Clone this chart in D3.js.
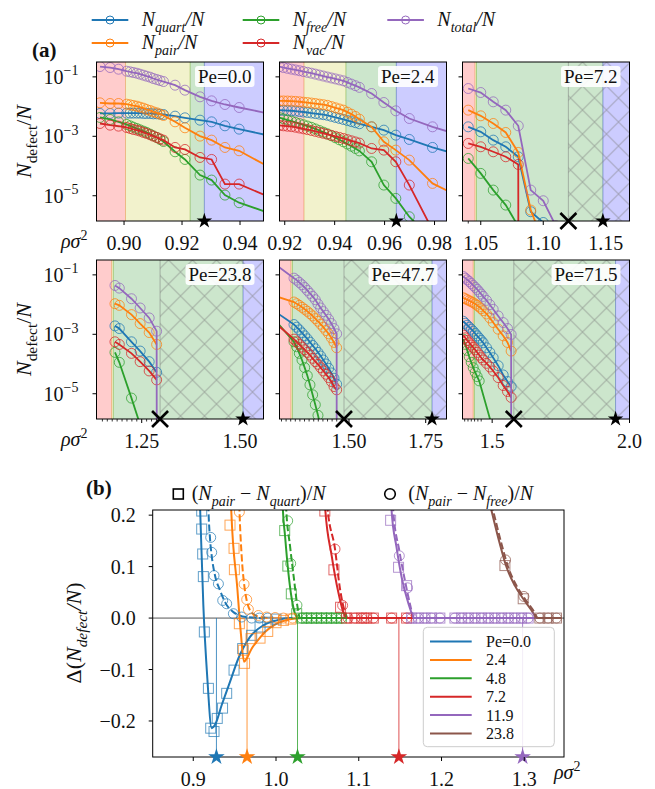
<!DOCTYPE html>
<html>
<head>
<meta charset="utf-8">
<script src="https://cdn.jsdelivr.net/npm/d3@7"></script>
<style>
body{margin:0;background:#fff;}
text{font-family:'Liberation Serif','DejaVu Serif',serif;fill:#111;}
</style>
</head>
<body>
<svg id="fig" width="655" height="789"></svg>
<script>
// ---------- panel (a): density and log10(N_x/N), one set per Pe ----------
var pe00_rho=[0.8917,0.8952,0.8981,0.9009,0.9021,0.9032,0.9044,0.9055,0.9067,0.9078,0.9090,0.9101,0.9113,0.9124,0.9136,0.9176,0.9210,0.9262,0.9302,0.9348,0.9397,0.9498];
var pe00_quart=[-2.232,-2.232,-2.221,-2.221,-2.221,-2.221,-2.221,-2.221,-2.232,-2.232,-2.232,-2.244,-2.244,-2.255,-2.266,-2.322,-2.378,-2.457,-2.513,-2.647,-2.759,-2.972];
var pe00_pair=[-1.874,-1.896,-1.896,-1.919,-1.941,-1.964,-1.986,-2.020,-2.053,-2.098,-2.132,-2.176,-2.210,-2.255,-2.300,-2.513,-2.714,-2.994,-3.129,-3.375,-3.487,-4.025];
var pe00_free=[-2.367,-2.434,-2.513,-2.602,-2.647,-2.692,-2.737,-2.782,-2.826,-2.871,-2.927,-2.983,-3.039,-3.106,-3.174,-3.521,-3.779,-4.305,-4.473,-4.978,-5.235,-5.571];
var pe00_vac=[-2.569,-2.625,-2.658,-2.703,-2.737,-2.770,-2.793,-2.826,-2.871,-2.905,-2.950,-2.994,-3.039,-3.084,-3.129,-3.375,-3.443,-3.711,-3.779,-4.608,-4.608,-5.034];
var pe00_total=[-0.653,-0.686,-0.742,-0.810,-0.832,-0.854,-0.877,-0.910,-0.944,-0.978,-1.011,-1.056,-1.090,-1.123,-1.157,-1.280,-1.448,-1.672,-1.807,-1.930,-2.031,-2.232];

var pe24_rho=[0.9179,0.9195,0.9211,0.9227,0.9243,0.9259,0.9275,0.9291,0.9307,0.9323,0.9339,0.9355,0.9371,0.9387,0.9403,0.9419,0.9435,0.9451,0.9467,0.9483,0.9499,0.9548,0.9597,0.9645,0.9699,0.9792,0.9888];
var pe24_quart=[-2.124,-2.129,-2.135,-2.141,-2.151,-2.168,-2.183,-2.199,-2.217,-2.235,-2.254,-2.273,-2.294,-2.329,-2.365,-2.399,-2.434,-2.470,-2.506,-2.542,-2.578,-2.681,-2.793,-2.961,-3.106,-3.375,-3.599];
var pe24_pair=[-1.809,-1.811,-1.813,-1.817,-1.825,-1.838,-1.852,-1.865,-1.881,-1.899,-1.918,-1.937,-1.959,-1.999,-2.040,-2.080,-2.120,-2.188,-2.255,-2.333,-2.423,-2.681,-3.185,-3.465,-3.801,-4.585,-4.978];
var pe24_free=[-2.371,-2.412,-2.452,-2.492,-2.533,-2.573,-2.613,-2.654,-2.699,-2.752,-2.806,-2.860,-2.916,-2.983,-3.050,-3.118,-3.185,-3.259,-3.334,-3.408,-3.491,-3.857,-4.641,-5.090,-5.706,-6.490,null];
var pe24_vac=[-2.634,-2.647,-2.661,-2.674,-2.694,-2.721,-2.748,-2.775,-2.804,-2.835,-2.868,-2.900,-2.933,-2.968,-3.003,-3.038,-3.073,-3.112,-3.151,-3.189,-3.229,-3.409,-3.465,-3.857,-4.641,-6.154,null];
var pe24_total=[-0.659,-0.686,-0.713,-0.740,-0.767,-0.794,-0.821,-0.848,-0.877,-0.908,-0.941,-0.973,-1.006,-1.038,-1.069,-1.102,-1.134,-1.188,-1.242,-1.296,-1.353,-1.560,-1.863,-2.143,-2.401,-2.681,-2.927];

var pe72_rho=[1.04,1.05,1.06,1.07,1.08,1.09,1.10,1.11];
var pe72_quart=[-2.681,-2.849,-3.129,-3.353,-3.689,-5.538,-5.900,null];
var pe72_pair=[-2.120,-2.311,-2.569,-2.871,-3.543,-5.482,-6.560,null];
var pe72_free=[-3.745,-4.249,-4.810,-5.314,-6.030,null,null,null];
var pe72_vac=[-3.241,-3.353,-3.521,-3.689,-3.947,-Infinity,null,null];
var pe72_total=[-1.392,-1.527,-1.840,-2.120,-2.647,-4.810,-5.168,-6.010];

var pe238_rho=[1.182,1.193,1.224,1.246,1.269,1.288,1.310];
var pe238_quart=[-2.717,-2.806,-3.252,-3.564,-3.921,-4.278,null];
var pe238_pair=[-1.970,-2.026,-2.338,-2.639,-2.940,-3.341,null];
var pe238_free=[-3.609,-3.943,-5.147,-6.040,null,null,null];
var pe238_vac=[-3.252,-3.341,-3.642,-3.921,-4.233,-4.534,null];
var pe238_total=[-1.357,-1.446,-1.803,-2.115,-2.449,-2.895,-Infinity];

var pe477_rho=[1.2532,1.3207,1.3294,1.3381,1.3468,1.3555,1.3641,1.3728,1.3815,1.3902,1.3989,1.4076,1.4163,1.4250,1.4337,1.4424,1.4511,1.4598,1.4700];
var pe477_quart=[-2.193,-2.672,-2.761,-2.851,-2.951,-3.051,-3.152,-3.263,-3.375,-3.486,-3.609,-3.731,-3.865,-3.999,-4.144,-4.300,-4.478,-4.679,null];
var pe477_pair=[-1.691,-1.914,-1.970,-2.026,-2.093,-2.159,-2.226,-2.304,-2.382,-2.472,-2.561,-2.661,-2.761,-2.873,-2.984,-3.118,-3.274,-3.453,null];
var pe477_free=[-2.449,-3.252,-3.419,-3.642,-3.865,-4.122,-4.389,-4.701,-5.036,-5.370,-5.727,-6.095,null,null,null,null,null,null,null];
var pe477_vac=[-2.561,-3.163,-3.252,-3.341,-3.430,-3.520,-3.609,-3.698,-3.809,-3.921,-4.010,-4.122,-4.233,-4.345,-4.456,-4.590,-4.757,-4.868,null];
var pe477_total=[-0.599,-1.111,-1.178,-1.256,-1.334,-1.424,-1.524,-1.624,-1.725,-1.836,-1.981,-2.115,-2.237,-2.360,-2.494,-2.639,-2.806,-2.984,-Infinity];

var pe715_rho=[1.3947,1.4020,1.4092,1.4165,1.4237,1.4310,1.4383,1.4455,1.4528,1.4601,1.4673,1.4794,1.4915,1.5037,1.5219,1.5401,1.5558,1.5691,1.5800];
var pe715_quart=[-2.561,-2.628,-2.695,-2.761,-2.828,-2.895,-2.973,-3.051,-3.129,-3.207,-3.285,-3.453,-3.609,-3.787,-4.055,-4.367,-4.590,-4.757,null];
var pe715_pair=[-1.769,-1.803,-1.836,-1.870,-1.903,-1.936,-1.981,-2.026,-2.081,-2.137,-2.204,-2.315,-2.449,-2.605,-2.828,-3.051,-3.274,-3.564,null];
var pe715_free=[-3.163,-3.341,-3.542,-3.754,-3.943,-4.122,-4.278,-4.423,-4.567,null,null,null,null,-6.229,null,null,null,null,null];
var pe715_vac=[-3.029,-3.118,-3.207,-3.285,-3.363,-3.441,-3.520,-3.609,-3.698,-3.787,-3.865,-3.977,-4.099,-4.233,-4.456,-4.724,-4.924,-5.125,null];
var pe715_total=[-1.056,-1.111,-1.167,-1.223,-1.290,-1.357,-1.424,-1.491,-1.569,-1.647,-1.725,-1.858,-2.003,-2.159,-2.382,-2.605,-2.806,-3.007,-Infinity];

var panelPe=['0.0','2.4','7.2','23.8','47.7','71.5'];
var panelRhoMin=[0.8905,0.9179,1.0354,1.1350,1.2735,1.3920];
var panelRhoMax=[0.9481,0.9848,1.1690,1.5598,1.8178,2.0000];
var panelTicks=[[0.90,0.92,0.94],[0.92,0.94,0.96,0.98],[1.05,1.10,1.15],[1.25,1.50],[1.50,1.75],[1.5,2.0]];
var panelMinorTicks=[[],[],[1.04],
  [1.1500,1.1625,1.1750,1.1875,1.2000,1.2125,1.2250,1.2375,1.2625,1.2750,1.2875,1.3000],
  [1.280,1.295,1.310,1.325,1.340,1.355,1.370,1.385,1.400,1.415,1.430,1.445,1.460,1.475],
  [1.400,1.412,1.424,1.436,1.448,1.460]];
var panelRedEnd=[0.9005,0.9277,1.0454,1.1735,1.3109,1.4310];
var panelYellowEnd=[0.9228,0.9445,1.0466,1.1778,1.3158,1.4354];
var panelStar=[0.9277,0.9647,1.1477,1.5077,1.7706,1.9492];
var panelCross=[null,null,1.1201,1.2967,1.4837,1.5788];
var yTickExp=[-1,-3,-5];
var yDomainExp=[-5.85,-0.5];

// ---------- panel (b): Delta(N_defect/N) ----------
var bPe=['Pe=0.0','2.4','4.8','7.2','11.9','23.8'];
var bSqX=[
 [0.9102,0.9102,0.9114,0.9122,0.9134,0.9183,0.9211,0.9251,0.9290,0.9354,0.9404,0.9493,0.9597,0.9706,0.9807,0.9900,1.0000],
 [0.9444,0.9493,0.9497,0.9557,0.9605,0.9620,0.9698,0.9807,0.9900,1.0000,1.0090,1.0180],
 [1.0105,1.0143,1.0185,1.0250,1.0310,1.0370,1.0430,1.0490,1.0550,1.0610,1.0670,1.0730,1.0790],
 [1.0590,1.0700,1.0780,1.0854,1.0954,1.1035,1.1095,1.1176,1.1397,1.1578],
 [1.1385,1.1481,1.1578,1.1639,1.1719,1.1800,1.1880,1.1980,1.2162,1.2243,1.2323,1.2404,1.2484,1.2565,1.2645,1.2726,1.2806,1.2886,1.2967,1.3047],
 [1.2766,1.2987,1.3188,1.3288,1.3389]];
var bSqY=[
 [0.208,0.173,0.1245,0.0806,-0.027,-0.1366,-0.214,-0.2205,-0.195,-0.175,-0.1463,-0.1012,-0.0593,-0.0335,-0.0174,-0.008,-0.002],
 [0.1806,0.1355,0.094,-0.011,-0.0625,-0.088,-0.04,-0.039,-0.026,-0.009,-0.0045,-0.002],
 [0.170,0.101,0.047,0.0085,0,0,0,0,0,0,0,0,0],
 [0.208,0.0937,0.021,0,0,0,0,0,0,0],
 [0.190,0.0987,0.063,0,0,0,0,0,0,0,0,0,0,0,0,0,0,0,0,0],
 [0.102,0.0375,0,0,0]];
var bCiX=[
 [0.9211,0.9223,0.9251,0.9304,0.9356,0.9404,0.9485,0.9585,0.9706,0.9800,0.9900],
 [0.9557,0.9614,0.9646,0.9666,0.9787,0.9887,0.9990,1.0090,1.0200],
 [1.0141,1.0177,1.0253,1.0310,1.0370,1.0430,1.0490,1.0550,1.0610,1.0670,1.0730,1.0790],
 [1.0713,1.0805,1.0870,1.0954,1.1035,1.1095,1.1176,1.1397,1.1578],
 [1.1490,1.1590,1.1639,1.1719,1.1800,1.1880,1.1980,1.2162,1.2243,1.2323,1.2404,1.2484,1.2565,1.2645,1.2726,1.2806,1.2886,1.2967,1.3047],
 [1.2774,1.2995,1.3188,1.3288,1.3389]];
var bCiY=[
 [0.1567,0.1277,0.0826,0.0665,0.0342,0.0278,0.0085,0.002,0,0,0],
 [0.206,0.066,0.036,0.017,0.005,0.002,0.001,0,0],
 [0.189,0.106,0.025,0,0,0,0,0,0,0,0,0],
 [0.134,0.0246,0,0,0,0,0,0,0],
 [0.121,0.0588,0,0,0,0,0,0,0,0,0,0,0,0,0,0,0,0,0],
 [0.113,0.042,0,0,0]];
// fitted curves (solid: pair-quart, dashed: pair-free)
var bFitSqX=[
 [0.9073,0.9082,0.9122,0.9170,0.9223,0.9263,0.9344,0.9444,0.9545,0.9686,0.9847,1.0008,1.0169,1.0200],
 [0.9450,0.9457,0.9533,0.9574,0.9614,0.9646,0.9707,0.9767,0.9867,1.0008,1.0169,1.0300],
 [1.0075,1.0081,1.0109,1.0149,1.0190,1.0230,1.0270,1.0850],
 [1.0585,1.0592,1.0673,1.0753,1.0813,1.0853,1.1660],
 [1.1390,1.1397,1.1457,1.1518,1.1578,1.1659,1.1665,1.3160],
 [1.2525,1.2605,1.2705,1.2786,1.2886,1.2987,1.3088,1.3156,1.3450]];
var bFitSqY=[
 [0.26,0.218,0.0246,-0.117,-0.214,-0.2075,-0.169,-0.124,-0.0786,-0.0367,-0.0141,-0.0045,0,0],
 [0.26,0.218,0.057,-0.027,-0.085,-0.0786,-0.059,-0.046,-0.027,-0.011,-0.0025,0],
 [0.26,0.218,0.16,0.089,0.0375,0.0085,0,0],
 [0.26,0.218,0.121,0.05,0.0116,0,0],
 [0.26,0.208,0.137,0.0793,0.0406,0.002,0,0],
 [0.26,0.208,0.144,0.0987,0.063,0.0375,0.015,0,0]];
var bFitCiX=[
 [0.9175,0.9182,0.9203,0.9223,0.9263,0.9324,0.9384,0.9485,0.9646,0.9850],
 [0.9550,0.9557,0.9585,0.9617,0.9646,0.9686,0.9767,0.9900],
 [1.0115,1.0121,1.0169,1.0217,1.0257,1.0290,1.0850],
 [1.0612,1.0620,1.0713,1.0773,1.0833,1.0870,1.1660],
 [1.1410,1.1417,1.1490,1.1558,1.1618,1.1667,1.3160],
 [1.2545,1.2625,1.2725,1.2806,1.2906,1.3007,1.3108,1.3166,1.3450]];
var bFitCiY=[
 [0.26,0.218,0.1535,0.121,0.0826,0.0536,0.031,0.0116,0.002,0],
 [0.26,0.218,0.121,0.063,0.034,0.015,0.004,0],
 [0.26,0.218,0.1406,0.076,0.0246,0,0],
 [0.26,0.218,0.134,0.057,0.0116,0,0],
 [0.26,0.208,0.131,0.073,0.028,0,0],
 [0.26,0.208,0.144,0.0987,0.063,0.0375,0.015,0,0]];
var bStar=[0.928,0.965,1.026,1.1485,1.298];
var bXTicks=[0.9,1.0,1.1,1.2,1.3];
var bYTicks=[-0.2,-0.1,0.0,0.1,0.2];

// ---------- styles ----------
var tab=['#1f77b4','#ff7f0e','#2ca02c','#d62728','#9467bd','#8c564b'];
var sColor={quart:tab[0],pair:tab[1],free:tab[2],vac:tab[3],total:tab[4]};
var sKeys=['quart','pair','free','vac','total'];
var svg=d3.select('#fig');
var defs=svg.append('defs');
var hs=24;
var hp=defs.append('pattern').attr('id','hatch').attr('patternUnits','userSpaceOnUse')
  .attr('width',hs).attr('height',hs);
hp.append('path').attr('d','M0,0L'+hs+','+hs+'M0,'+hs+'L'+hs+',0M-1,1L1,-1M'+(hs-1)+','+(hs+1)+'L'+(hs+1)+','+(hs-1))
  .attr('stroke','#7a7a7a').attr('stroke-opacity',0.5).attr('stroke-width',1.1);

function mtext(g,x,y,parts,size,anchor){
  var t=g.append('text').attr('x',x).attr('y',y).style('font-size',size+'px')
    .attr('text-anchor',anchor||'start');
  var shift=0;
  parts.forEach(function(p){
    var s=t.append('tspan').text(p.t);
    if(p.i) s.style('font-style','italic');
    if(p.b) s.style('font-weight','bold');
    var target=p.sub?size*0.28:(p.sup?-size*0.42:0);
    if(target!==shift) s.attr('dy',target-shift);
    shift=target;
    if(p.sub||p.sup) s.style('font-size',(size*0.7)+'px');
  });
  return t;
}

var panels=[
 {rho:pe00_rho,quart:pe00_quart,pair:pe00_pair,free:pe00_free,vac:pe00_vac,total:pe00_total},
 {rho:pe24_rho,quart:pe24_quart,pair:pe24_pair,free:pe24_free,vac:pe24_vac,total:pe24_total},
 {rho:pe72_rho,quart:pe72_quart,pair:pe72_pair,free:pe72_free,vac:pe72_vac,total:pe72_total},
 {rho:pe238_rho,quart:pe238_quart,pair:pe238_pair,free:pe238_free,vac:pe238_vac,total:pe238_total},
 {rho:pe477_rho,quart:pe477_quart,pair:pe477_pair,free:pe477_free,vac:pe477_vac,total:pe477_total},
 {rho:pe715_rho,quart:pe715_quart,pair:pe715_pair,free:pe715_free,vac:pe715_vac,total:pe715_total}];

var colLeft=[96.5,279.5,462.5], pw=167, rowTop=[62,260], ph=159;
var tickFont=20;

panels.forEach(function(P,i){
  var col=i%3,row=Math.floor(i/3);
  var x0=colLeft[col],y0=rowTop[row];
  var g=svg.append('g').attr('transform','translate('+x0+','+y0+')');
  var x=d3.scaleLinear().domain([panelRhoMin[i],panelRhoMax[i]]).range([0,pw]);
  var y=d3.scaleLog().domain([Math.pow(10,yDomainExp[0]),Math.pow(10,yDomainExp[1])]).range([ph,0]);
  defs.append('clipPath').attr('id','clipA'+i).append('rect').attr('width',pw).attr('height',ph);
  var pg=g.append('g').attr('clip-path','url(#clipA'+i+')');
  // phase regions
  var spans=[[panelRhoMin[i]-1,panelRedEnd[i],'rgb(255,0,0)'],[panelRedEnd[i],panelYellowEnd[i],'rgb(191,191,0)'],
             [panelYellowEnd[i],panelStar[i],'rgb(0,128,0)'],[panelStar[i],panelRhoMax[i]+1,'rgb(0,0,255)']];
  spans.forEach(function(s){
    pg.append('rect').attr('x',x(s[0])).attr('width',x(s[1])-x(s[0])).attr('y',-2).attr('height',ph+4)
      .attr('fill',s[2]).attr('fill-opacity',0.2).attr('stroke',s[2]).attr('stroke-opacity',0.2).attr('stroke-width',1);
  });
  if(panelCross[i]!==null){
    pg.append('rect').attr('x',x(panelCross[i])).attr('width',pw-x(panelCross[i])+5).attr('y',-2).attr('height',ph+4)
      .attr('fill','url(#hatch)').attr('stroke','#7a7a7a').attr('stroke-opacity',0.5).attr('stroke-width',1);
  }
  function yv(v){return v===-Infinity?1e-300:Math.pow(10,v);}
  sKeys.forEach(function(k){
    var pts=[];
    P.rho.forEach(function(r,j){ if(P[k][j]!==null) pts.push([r,P[k][j]]); });
    pg.append('path').datum(pts)
      .attr('d',d3.line().x(function(d){return x(d[0]);}).y(function(d){return y(yv(d[1]));}))
      .attr('fill','none').attr('stroke',sColor[k]).attr('stroke-width',1.8);
    pg.selectAll(null).data(pts.filter(function(d){return isFinite(d[1]);})).enter().append('circle')
      .attr('cx',function(d){return x(d[0]);}).attr('cy',function(d){return y(yv(d[1]));}).attr('r',5)
      .attr('fill','none').attr('stroke',sColor[k]).attr('stroke-opacity',0.75).attr('stroke-width',1);
  });
  g.append('rect').attr('width',pw).attr('height',ph).attr('fill','none').attr('stroke','#000').attr('stroke-width',1);
  // x ticks
  panelMinorTicks[i].forEach(function(t){
    g.append('line').attr('x1',x(t)).attr('x2',x(t)).attr('y1',ph).attr('y2',ph+2.5).attr('stroke','#000').attr('stroke-width',0.8);
  });
  panelTicks[i].forEach(function(t){
    g.append('line').attr('x1',x(t)).attr('x2',x(t)).attr('y1',ph).attr('y2',ph+4).attr('stroke','#000');
    g.append('text').attr('x',x(t)).attr('y',ph+29).attr('text-anchor','middle').style('font-size',tickFont+'px')
      .text(i===5?t.toFixed(1):t.toFixed(2));
  });
  // y ticks
  yTickExp.forEach(function(e){
    var yy=y(Math.pow(10,e));
    g.append('line').attr('x1',-4).attr('x2',0).attr('y1',yy).attr('y2',yy).attr('stroke','#000');
    if(col===0){
      mtext(g,-18,yy+7,[{t:'10'},{t:'\u2212'+(-e),sup:true}],tickFont,'end');
    }
  });
  // Pe label
  var lb=g.append('g');
  var lt=lb.append('text').attr('x',pw-12).attr('y',21).attr('text-anchor','end').style('font-size','19px').text('Pe='+panelPe[i]);
  var bb=lt.node().getBBox();
  lb.insert('rect','text').attr('x',bb.x-3).attr('y',bb.y).attr('width',bb.width+6).attr('height',bb.height)
    .attr('rx',3).attr('fill','#fff').attr('fill-opacity',0.9);
  // star and cross on the axis
  g.append('path').attr('d',d3.symbol().type(d3.symbolStar).size(75)()).attr('transform','translate('+x(panelStar[i])+','+ph+')')
    .attr('fill','#000');
  if(panelCross[i]!==null){
    var cx=x(panelCross[i]);
    g.append('path').attr('d','M'+(cx-8)+','+(ph-8)+'L'+(cx+8)+','+(ph+8)+'M'+(cx-8)+','+(ph+8)+'L'+(cx+8)+','+(ph-8))
      .attr('stroke','#000').attr('stroke-width',2.6);
  }
  if(col===0){
    mtext(svg,61,y0+ph+27,[{t:'\u03c1\u03c3',i:true},{t:'2',sup:true}],tickFont,'start');
    var yl=svg.append('g').attr('transform','translate(31,'+(y0+ph/2)+') rotate(-90)');
    mtext(yl,0,0,[{t:'N',i:true},{t:'defect',sub:true},{t:'/',i:false},{t:'N',i:true}],22,'middle');
  }
});

// (a) label and legend
mtext(svg,32,57,[{t:'(a)',b:true}],21,'start');
var legA=[['quart',91.7,20],['pair',91.7,43],['free',242.7,20],['vac',242.7,43],['total',387.3,20]];
legA.forEach(function(l){
  svg.append('line').attr('x1',l[1]).attr('x2',l[1]+36.6).attr('y1',l[2]).attr('y2',l[2]).attr('stroke',sColor[l[0]]).attr('stroke-width',1.8);
  svg.append('circle').attr('cx',l[1]+18.3).attr('cy',l[2]).attr('r',4).attr('fill','none').attr('stroke',sColor[l[0]]).attr('stroke-width',1);
  mtext(svg,l[1]+50,l[2]+6,[{t:'N',i:true},{t:l[0],i:true,sub:true},{t:'/N',i:true}],20,'start');
});

// ---------- panel (b) ----------
var bx0=152.7,by0=510,bw=411.3,bh=247;
var gb=svg.append('g').attr('transform','translate('+bx0+','+by0+')');
var xb=d3.scaleLinear().domain([0.851,1.348]).range([0,bw]);
var yb=d3.scaleLinear().domain([-0.27,0.21]).range([bh,0]);
defs.append('clipPath').attr('id','clipB').append('rect').attr('width',bw).attr('height',bh);
var pb=gb.append('g').attr('clip-path','url(#clipB)');
pb.append('line').attr('x1',0).attr('x2',bw).attr('y1',yb(0)).attr('y2',yb(0)).attr('stroke','#555').attr('stroke-width',1);
bStar.forEach(function(s,k){
  pb.append('line').attr('x1',xb(s)).attr('x2',xb(s)).attr('y1',yb(0)).attr('y2',bh).attr('stroke',tab[k]).attr('stroke-width',1).attr('stroke-opacity',0.8);
});
var lineB=d3.line().x(function(d){return xb(d[0]);}).y(function(d){return yb(d[1]);}).curve(d3.curveMonotoneX);
bPe.forEach(function(p,k){
  pb.append('path').datum(d3.zip(bFitSqX[k],bFitSqY[k])).attr('d',lineB).attr('fill','none')
    .attr('stroke',tab[k]).attr('stroke-width',2);
  pb.append('path').datum(d3.zip(bFitCiX[k],bFitCiY[k])).attr('d',lineB).attr('fill','none')
    .attr('stroke',tab[k]).attr('stroke-width',2).attr('stroke-dasharray','7,3');
});
bPe.forEach(function(p,k){
  pb.selectAll(null).data(d3.zip(bSqX[k],bSqY[k])).enter().append('rect')
    .attr('x',function(d){return xb(d[0])-5;}).attr('y',function(d){return yb(d[1])-5;}).attr('width',10).attr('height',10)
    .attr('fill','none').attr('stroke',tab[k]).attr('stroke-opacity',0.7).attr('stroke-width',1);
  pb.selectAll(null).data(d3.zip(bCiX[k],bCiY[k])).enter().append('circle')
    .attr('cx',function(d){return xb(d[0]);}).attr('cy',function(d){return yb(d[1]);}).attr('r',5)
    .attr('fill','none').attr('stroke',tab[k]).attr('stroke-opacity',0.7).attr('stroke-width',1);
});
gb.append('rect').attr('width',bw).attr('height',bh).attr('fill','none').attr('stroke','#000');
bStar.forEach(function(s,k){
  gb.append('path').attr('d',d3.symbol().type(d3.symbolStar).size(85)()).attr('transform','translate('+xb(s)+','+bh+')').attr('fill',tab[k]);
});
bXTicks.forEach(function(t){
  gb.append('line').attr('x1',xb(t)).attr('x2',xb(t)).attr('y1',bh).attr('y2',bh+4).attr('stroke','#000');
  gb.append('text').attr('x',xb(t)).attr('y',bh+29).attr('text-anchor','middle').style('font-size',tickFont+'px').text(t.toFixed(1));
});
bYTicks.forEach(function(t){
  gb.append('line').attr('x1',-4).attr('x2',0).attr('y1',yb(t)).attr('y2',yb(t)).attr('stroke','#000');
  gb.append('text').attr('x',-17).attr('y',yb(t)+7).attr('text-anchor','end').style('font-size',tickFont+'px')
    .text(t<0?'\u2212'+(-t).toFixed(1):t.toFixed(1));
});
mtext(svg,554,779,[{t:'\u03c1\u03c3',i:true},{t:'2',sup:true}],tickFont,'start');
var ylb=svg.append('g').attr('transform','translate(81,633) rotate(-90)');
mtext(ylb,0,0,[{t:'\u0394('},{t:'N',i:true},{t:'defect',i:true,sub:true},{t:'/N',i:true},{t:')'}],22,'middle');
mtext(svg,86,495,[{t:'(b)',b:true}],21,'start');
// top legend
svg.append('rect').attr('x',173.3).attr('y',489).attr('width',10).attr('height',10).attr('fill','none').attr('stroke','#000').attr('stroke-width',1.6);
mtext(svg,191.7,500,[{t:'('},{t:'N',i:true},{t:'pair',i:true,sub:true},{t:' \u2212 '},{t:'N',i:true},{t:'quart',i:true,sub:true},{t:')/'},{t:'N',i:true}],20,'start');
svg.append('circle').attr('cx',390).attr('cy',494).attr('r',5.3).attr('fill','none').attr('stroke','#000').attr('stroke-width',1.6);
mtext(svg,408.3,500,[{t:'('},{t:'N',i:true},{t:'pair',i:true,sub:true},{t:' \u2212 '},{t:'N',i:true},{t:'free',i:true,sub:true},{t:')/'},{t:'N',i:true}],20,'start');
// Pe legend box
var lg=svg.append('g');
lg.append('rect').attr('x',423.3).attr('y',627.3).attr('width',131).attr('height',119.4).attr('rx',4)
  .attr('fill','#fff').attr('fill-opacity',0.85).attr('stroke','#ccc');
bPe.forEach(function(p,k){
  var yy=641.5+k*18.4;
  lg.append('line').attr('x1',430).attr('x2',471.7).attr('y1',yy).attr('y2',yy).attr('stroke',tab[k]).attr('stroke-width',2);
  lg.append('text').attr('x',486).attr('y',yy+5.5).style('font-size','16px').text(p);
});
</script>
</body>
</html>
